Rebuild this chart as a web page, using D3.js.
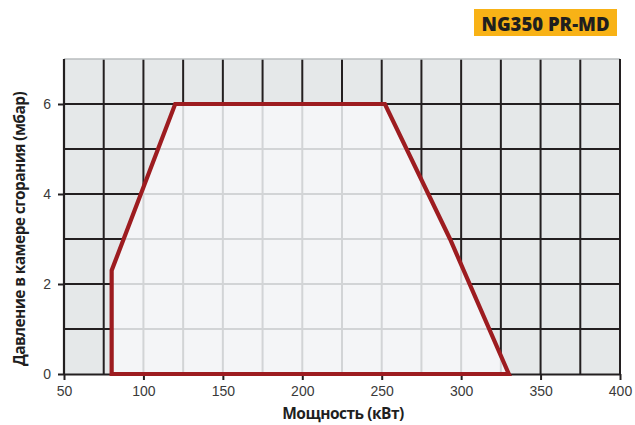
<!DOCTYPE html>
<html><head><meta charset="utf-8">
<script src="https://cdn.jsdelivr.net/npm/d3@7"></script>
<style>body{margin:0;background:#fff}svg{display:block}</style>
</head><body>
<svg id="c" width="635" height="425"></svg>
<script>
const title = "NG350 PR-MD";
const xLabel = "Мощность (кВт)";
const yLabel = "Давление в камере сгорания (мбар)";
const xTicks = [50, 100, 150, 200, 250, 300, 350, 400];
const yTicks = [0, 2, 4, 6];
const xGrid = d3.range(50, 401, 25);
const yGrid = d3.range(0, 8, 1);
// working field polygon: power (kW), pressure (mbar)
const fieldPower = [80, 80, 120, 252, 293, 330];
const fieldPressure = [0, 2.3, 6, 6, 3, 0];

const svg = d3.select("#c");
const L = 64, R = 620, T = 59, B = 374;
const x = d3.scaleLinear().domain([50, 400]).range([L, R]);
const y = d3.scaleLinear().domain([0, 7]).range([B, T]);

// badge
svg.append("rect").attr("x", 474).attr("y", 9).attr("width", 143).attr("height", 27).attr("fill", "#f8b216");
svg.append("text").attr("x", 545.5).attr("y", 30.5).attr("text-anchor", "middle")
  .attr("font-family", "'Open Sans', sans-serif").attr("font-weight", 800).attr("font-size", 18.5)
  .attr("fill", "#1f1f1f").text(title);

// background
svg.append("rect").attr("x", L).attr("y", T).attr("width", R - L).attr("height", B - T).attr("fill", "#e5e8e9");

const gDark = svg.append("g").attr("stroke", "#231f20").attr("stroke-width", 2);
gDark.selectAll("line.v").data(xGrid.slice(1)).join("line")
  .attr("x1", d => x(d)).attr("x2", d => x(d)).attr("y1", T).attr("y2", B);
gDark.selectAll("line.h").data(yGrid.slice(1, -1)).join("line")
  .attr("x1", L).attr("x2", R).attr("y1", d => y(d)).attr("y2", d => y(d));
svg.append("line").attr("x1", L).attr("x2", R).attr("y1", T).attr("y2", T)
  .attr("stroke", "#b9bcbe").attr("stroke-width", 1.5);

const pts = fieldPower.map((p, i) => [x(p), y(fieldPressure[i])]);
const lineGen = d3.line();
svg.append("defs").append("clipPath").attr("id", "fc").append("path").attr("d", lineGen(pts) + "Z");
svg.append("path").attr("d", lineGen(pts) + "Z").attr("fill", "#f4f5f7");
const gLight = svg.append("g").attr("clip-path", "url(#fc)").attr("stroke", "#d2d4d6").attr("stroke-width", 2);
gLight.selectAll("line.v").data(xGrid).join("line")
  .attr("x1", d => x(d)).attr("x2", d => x(d)).attr("y1", T).attr("y2", B);
gLight.selectAll("line.h").data(yGrid).join("line")
  .attr("x1", L).attr("x2", R).attr("y1", d => y(d)).attr("y2", d => y(d));

// axes
const xAxis = svg.append("g").attr("transform", `translate(0,${B})`)
  .call(d3.axisBottom(x).tickValues(xTicks).tickFormat(d3.format("d")).tickSize(6).tickSizeOuter(0).tickPadding(6));
const yAxis = svg.append("g").attr("transform", `translate(${L},0)`)
  .call(d3.axisLeft(y).tickValues(yTicks).tickFormat(d3.format("d")).tickSize(6).tickSizeOuter(0).tickPadding(7));
[xAxis, yAxis].forEach(a => {
  a.select(".domain").attr("stroke", "#231f20").attr("stroke-width", 2.2);
  a.selectAll(".tick line").attr("stroke", "#231f20").attr("stroke-width", 2);
  a.selectAll("text").attr("font-family", "'Liberation Sans', Arial, sans-serif")
    .attr("font-size", 14).attr("fill", "#3a3a3a");
});
yAxis.select(".domain").attr("d", `M0,${B}V${T}`);
svg.append("line").attr("x1", R).attr("x2", R).attr("y1", T).attr("y2", B)
  .attr("stroke", "#231f20").attr("stroke-width", 2);

// field outline
svg.append("path").attr("d", lineGen(pts) + "Z").attr("fill", "none")
  .attr("stroke", "#9d1c20").attr("stroke-width", 4.2).attr("stroke-linejoin", "miter");

// labels
svg.append("text").attr("x", 343).attr("y", 419).attr("text-anchor", "middle")
  .attr("font-family", "'Open Sans', sans-serif").attr("font-weight", 700).attr("font-size", 15.5)
  .attr("fill", "#1f1f1f").attr("letter-spacing", -0.5).text(xLabel);
svg.append("text").attr("transform", "translate(25,229) rotate(-90)").attr("text-anchor", "middle")
  .attr("font-family", "'Open Sans', sans-serif").attr("font-weight", 700).attr("font-size", 15.5)
  .attr("fill", "#1f1f1f").attr("letter-spacing", -0.6).text(yLabel);
</script>
</body></html>
